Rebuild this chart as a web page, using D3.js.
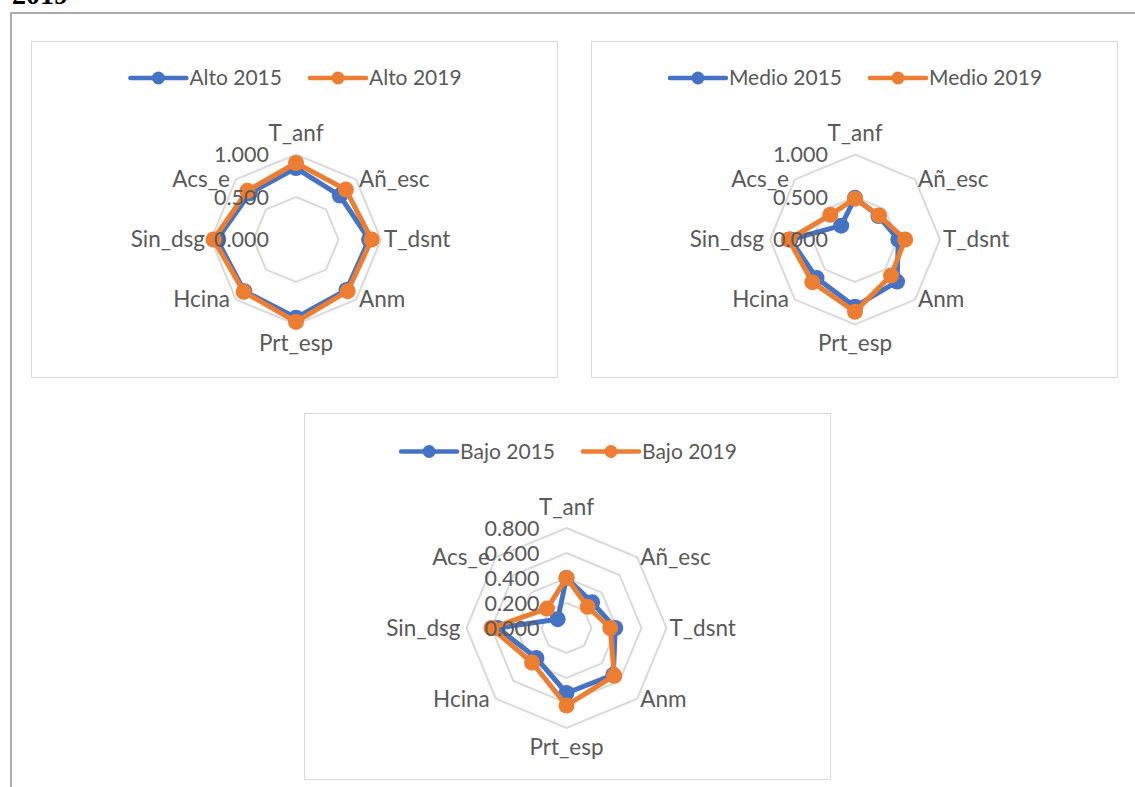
<!DOCTYPE html>
<html><head><meta charset="utf-8">
<script src="https://cdn.jsdelivr.net/npm/d3@7"></script>
<style>
html,body{margin:0;padding:0;background:#fff;overflow:hidden}
svg{display:block}
text{font-family:Lato,"Open Sans",sans-serif;fill:#595959}
</style></head>
<body>
<svg id="c" width="1135" height="787"></svg>
<script>
const categories = ["T_anf","Añ_esc","T_dsnt","Anm","Prt_esp","Hcina","Sin_dsg","Acs_e"];
const alto2015  = [0.84, 0.73, 0.86, 0.84, 0.92, 0.86, 0.93, 0.77];
const alto2019  = [0.90, 0.83, 0.89, 0.86, 0.97, 0.87, 0.97, 0.81];
const medio2015 = [0.49, 0.39, 0.51, 0.70, 0.79, 0.64, 0.76, 0.23];
const medio2019 = [0.48, 0.40, 0.59, 0.60, 0.85, 0.71, 0.78, 0.41];
const bajo2015  = [0.40, 0.29, 0.39, 0.53, 0.52, 0.34, 0.55, 0.10];
const bajo2019  = [0.40, 0.24, 0.35, 0.54, 0.62, 0.39, 0.60, 0.22];
const ticksAltoMedio = [0, 0.5, 1.0];
const ticksBajo = [0, 0.2, 0.4, 0.6, 0.8];
const seriesNames = {alto:["Alto 2015","Alto 2019"], medio:["Medio 2015","Medio 2019"], bajo:["Bajo 2015","Bajo 2019"]};

const BLUE = "#4472C4", ORANGE = "#ED7D31", GRID = "#D9D9D9";
const svg = d3.select("#c");

// cut-off heading from the page above
svg.append("text").attr("x", 12).attr("y", 4)
  .style("font-family", "'Liberation Serif',serif").style("font-weight", "bold")
  .style("font-size", "28px").style("fill", "#000").text("2019");

// outer frame (top + left only visible)
svg.append("line").attr("x1", 11).attr("x2", 1135).attr("y1", 13).attr("y2", 13)
  .attr("stroke", "#ABABAB").attr("stroke-width", 2);
svg.append("line").attr("x1", 11).attr("x2", 11).attr("y1", 12).attr("y2", 787)
  .attr("stroke", "#ABABAB").attr("stroke-width", 2);

function radar(opts) {
  const {box, cx, cy, R, max, ticks, s1, s2, names, legendY} = opts;
  const g = svg.append("g");
  g.append("rect").attr("x", box[0] + 0.5).attr("y", box[1] + 0.5)
    .attr("width", box[2] - box[0]).attr("height", box[3] - box[1])
    .attr("fill", "#fff").attr("stroke", GRID).attr("stroke-width", 1);

  const r = d3.scaleLinear().domain([0, max]).range([0, R]);
  const n = categories.length;
  const ang = d3.scaleLinear().domain([0, n]).range([0, 2 * Math.PI]);
  const pg = g.append("g").attr("transform", `translate(${cx},${cy})`);

  // grid rings
  const ringLine = d3.lineRadial().angle((d, i) => ang(i)).radius(d => r(d)).curve(d3.curveLinearClosed);
  ticks.filter(t => t > 0).forEach(t => {
    pg.append("path").attr("d", ringLine(categories.map(() => t)))
      .attr("fill", "none").attr("stroke", GRID).attr("stroke-width", 2);
  });

  // series
  const line = d3.lineRadial().angle((d, i) => ang(i)).radius(d => r(d)).curve(d3.curveLinearClosed);
  [[s1, BLUE], [s2, ORANGE]].forEach(([vals, col]) => {
    pg.append("path").attr("d", line(vals)).attr("fill", "none")
      .attr("stroke", col).attr("stroke-width", 5).attr("stroke-linejoin", "round");
    pg.selectAll(null).data(vals).enter().append("circle")
      .attr("cx", (d, i) => r(d) * Math.sin(ang(i)))
      .attr("cy", (d, i) => -r(d) * Math.cos(ang(i)))
      .attr("r", 8).attr("fill", col);
  });

  // category labels
  categories.forEach((c, i) => {
    const a = ang(i), sx = Math.sin(a), cyy = -Math.cos(a);
    let x = R * sx, y = R * cyy, anchor = "middle";
    if (sx > 0.1) { x += 3; anchor = "start"; }
    else if (sx < -0.1) { x -= 6; anchor = "end"; }
    if (Math.abs(sx) < 0.1) y += cyy < 0 ? -21 : 19;
    pg.append("text").attr("x", x).attr("y", y).attr("dy", "0.35em")
      .attr("text-anchor", anchor).style("font-size", "22.5px").text(c);
  });

  // value axis labels
  ticks.forEach(t => {
    pg.append("text").attr("x", -27).attr("y", -r(t)).attr("dy", "0.35em")
      .attr("text-anchor", "end").style("font-size", "21.5px").text(d3.format(".3f")(t));
  });

  // legend
  const lg = g.append("g");
  let x = 0;
  [[names[0], BLUE], [names[1], ORANGE]].forEach(([nm, col], k) => {
    if (k > 0) x += 28;
    lg.append("line").attr("x1", x).attr("x2", x + 56).attr("y1", 0).attr("y2", 0)
      .attr("stroke", col).attr("stroke-width", 4.5).attr("stroke-linecap", "round");
    lg.append("circle").attr("cx", x + 28).attr("cy", 0).attr("r", 6.5).attr("fill", col);
    const t = lg.append("text").attr("x", x + 59).attr("y", 0).attr("dy", "0.35em")
      .style("font-size", "21px").text(nm);
    x += 59 + t.node().getComputedTextLength();
  });
  const midX = (box[0] + box[2]) / 2 + 2;
  lg.attr("transform", `translate(${midX - x / 2},${legendY})`);
}

radar({box:[31,41,557,377], cx:296, cy:239.5, R:85, max:1.0, ticks:ticksAltoMedio,
  s1:alto2015, s2:alto2019, names:seriesNames.alto, legendY:78});
radar({box:[591,41,1117,377], cx:855, cy:239.5, R:85, max:1.0, ticks:ticksAltoMedio,
  s1:medio2015, s2:medio2019, names:seriesNames.medio, legendY:78});
radar({box:[304,413,830,779], cx:566.5, cy:628, R:100, max:0.8, ticks:ticksBajo,
  s1:bajo2015, s2:bajo2019, names:seriesNames.bajo, legendY:451.5});
</script>
</body></html>
